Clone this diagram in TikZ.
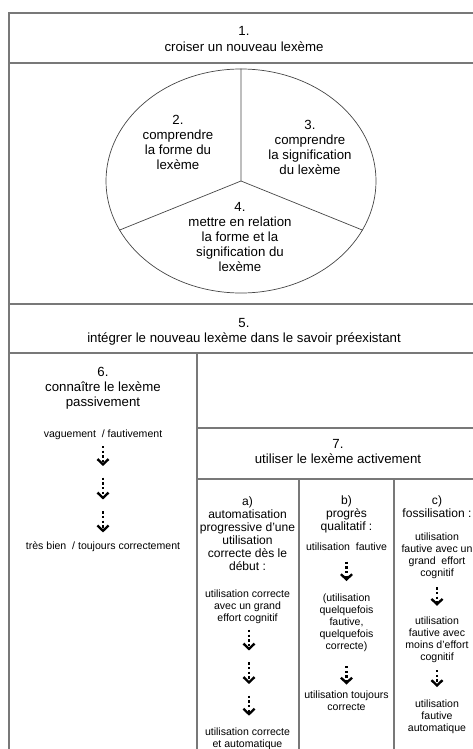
\documentclass[tikz,border=0pt]{standalone}
\usepackage{fontspec}
\setmainfont{Liberation Sans}
\definecolor{rulegray}{RGB}{120,120,120}
\definecolor{piegray}{RGB}{70,70,70}
\usetikzlibrary{arrows.meta,positioning,shapes.geometric}

\begin{document}
\begin{tikzpicture}[x=0.03cm, y=-0.03cm, every node/.style={inner sep=1pt, align=center},
  hd/.style={font=\fontsize{11.3}{13}\selectfont},
  sub/.style={font=\fontsize{10.3}{11.1}\selectfont},
  sm/.style={font=\fontsize{9}{10.2}\selectfont},
  rule/.style={draw=rulegray, line width=1.3pt},
  piel/.style={draw=piegray, line width=0.6pt},
  dotarr/.style={line width=2pt, dash pattern=on 2pt off 2pt, shorten <=4pt, shorten >=6pt,
    -{Straight Barb[length=4.5pt, width=9.5pt, line width=2pt]}}]
\useasboundingbox (0,0) rectangle (473,749);
\clip (0,0) rectangle (473,749);
% table rules
\draw[rule] (9,770) -- (9,13) -- (490,13);
\foreach \y in {63,304,353} \draw[rule] (9,\y) -- (490,\y);
\draw[rule] (197,353) -- (197,770);
\foreach \y in {428,479} \draw[rule] (197,\y) -- (490,\y);
\foreach \x in {299,394} \draw[rule] (\x,479) -- (\x,770);
% 1.
\node[hd] (croiser) at (244,39) {1.\\croiser un nouveau lexème};
% 2. 3. 4. in the ellipse
\node[ellipse, piel, minimum width=8.1cm, minimum height=6.72cm, inner sep=0pt] (pie) at (241,181) {};
\draw[piel] (pie.north) -- (pie.center) -- (pie.202);
\draw[piel] (pie.center) -- (pie.338);
\node[hd] (forme) at (178,142.5) {2.\\comprendre\\la forme du\\lexème};
\node[hd] (sens) at (310,147.5) {3.\\comprendre\\la signification\\du lexème};
\node[hd] (relation) at (240,237) {4.\\mettre en relation\\la forme et la\\signification du\\lexème};
% 5.
\node[hd] (integrer) at (244,331.5) {5.\\intégrer le nouveau lexème dans le savoir préexistant};
% 6.
\node[hd] (passif) at (103,388) {6.\\connaître le lexème\\passivement};
\node[sm] (vague) at (103,435) {vaguement~~/ fautivement};
\node[sm] (tresbien) at (103,547) {très bien~~/ toujours correctement};
\coordinate (v1) at (103,473);
\coordinate (v2) at (103,506.5);
\draw[dotarr] (vague) -- (v1);
\draw[dotarr] (v1) -- (v2);
\draw[dotarr, shorten >=7pt] (v2) -- (tresbien);
% 7.
\node[hd] (actif) at (338,451.5) {7.\\utiliser le lexème activement};
% a)
\node[sub] (autom) at (247.5,534) {a)\\automatisation\\progressive d'une\\utilisation\\correcte dès le\\début :};
\node[sm] (a1) at (247.5,607) {utilisation correcte\\avec un grand\\effort cognitif};
\node[sm] (a2) at (247.5,738.5) {utilisation correcte\\et automatique};
\coordinate (w1) at (249,657.5);
\coordinate (w2) at (249,691);
\draw[dotarr] (a1.south -| w1) -- (w1);
\draw[dotarr] (w1) -- (w2);
\draw[dotarr, shorten >=9pt] (w2) -- (a2.north -| w2);
% b)
\node[sub] (progres) at (346.5,514) {b)\\progrès\\qualitatif :};
\node[sm] (b1) at (346.5,547) {utilisation~~fautive};
\node[sm] (b2) at (346.5,623) {(utilisation\\quelquefois\\fautive,\\quelquefois\\correcte)};
\node[sm] (b3) at (346.5,700.5) {utilisation toujours\\correcte};
\draw[dotarr, shorten <=8pt, shorten >=10pt] (b1) -- (b2);
\draw[dotarr, shorten <=11pt, shorten >=4pt] (b2) -- (b3);
% c)
\node[sub] (fossil) at (437,506.5) {c)\\fossilisation :};
\node[sm] (c1) at (437,556) {utilisation\\fautive avec un\\grand~~effort\\cognitif};
\node[sm] (c2) at (437,640) {utilisation\\fautive avec\\moins d'effort\\cognitif};
\node[sm] (c3) at (437,717) {utilisation\\fautive\\automatique};
\draw[dotarr, shorten <=6pt, shorten >=8.5pt] (c1) -- (c2);
\draw[dotarr, shorten <=5pt, shorten >=10pt] (c2) -- (c3);
\end{tikzpicture}
\end{document}
